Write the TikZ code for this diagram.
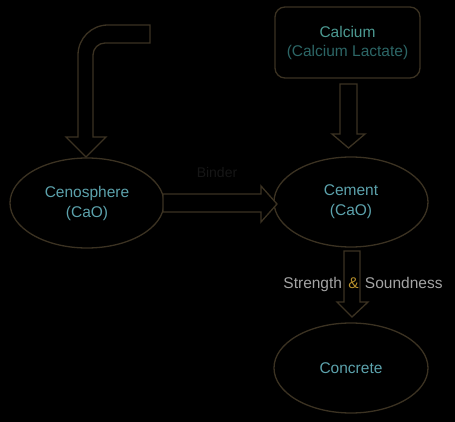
\documentclass[tikz,border=0pt]{standalone}
\usepackage{fontspec}
\setmainfont{Liberation Sans}
\usetikzlibrary{shapes.geometric}
\definecolor{edge}{HTML}{3B3222}
\definecolor{teal1}{HTML}{5CA2AC}
\definecolor{teal2}{HTML}{4C9A92}
\definecolor{teal3}{HTML}{2C6666}
\definecolor{binder}{HTML}{161616}
\definecolor{graytxt}{HTML}{A4A4A4}
\definecolor{amp}{HTML}{B8902C}
\tikzset{
  ell/.style={draw=edge, line width=1.3pt, ellipse, minimum width=154pt, minimum height=90pt, inner sep=0pt, align=center, text=teal1, font=\fontsize{15.5}{20}\selectfont},
  boxnode/.style={draw=edge, line width=1.3pt, rounded corners=10pt, minimum width=145pt, minimum height=71pt, inner sep=0pt, align=center, font=\fontsize{15.5}{19}\selectfont},
  blockarrow/.style={draw=edge, line width=1.3pt, fill=black, line join=miter}
}
\begin{document}
\begin{tikzpicture}[x=1pt,y=-1pt]
\fill[black] (0,0) rectangle (455,422);
\useasboundingbox (0,0) rectangle (455,422);

\node[ell] (ceno) at (87,203) {Cenosphere\\(CaO)};
\node[ell] (cement) at (351,202) {Cement\\(CaO)};
\node[ell] (concrete) at (351,368) {Concrete};
\node[boxnode] (calcium) at (347.5,42.5) {\textcolor{teal2}{Calcium}\\\textcolor{teal3}{(Calcium Lactate)}};

% bent arrow into Cenosphere
\draw[blockarrow] (78,137) -- (78,55) .. controls (78,38.4) and (91.4,25) .. (108,25)
  -- (150,25) -- (150,43) -- (105,43) .. controls (98.4,43) and (93,48.4) .. (93,55)
  -- (93,137) -- (106,137) -- (86,157) -- (66,137) -- cycle;

% Calcium -> Cement
\draw[blockarrow] (340,84) -- (357,84) -- (357,134) -- (365,134) -- (348.5,148) -- (332,134) -- (340,134) -- cycle;

% Cenosphere -> Cement (Binder)
\draw[blockarrow] (163,194) -- (261,194) -- (261,186) -- (277,204) -- (261,222) -- (261,212) -- (163,212) -- cycle;
\node[text=binder, font=\fontsize{14}{16}\selectfont] (bindertxt) at (217,172) {Binder};

% Cement -> Concrete
\draw[blockarrow] (344,251) -- (360,251) -- (360,302) -- (368,302) -- (352,317) -- (337,302) -- (344,302) -- cycle;
\node[text=graytxt, font=\fontsize{15.5}{18}\selectfont, inner sep=0pt] (strength) at (363,284) {Strength\hspace{2pt} \textcolor{amp}{\&}\hspace{2pt} Soundness};
\end{tikzpicture}
\end{document}
